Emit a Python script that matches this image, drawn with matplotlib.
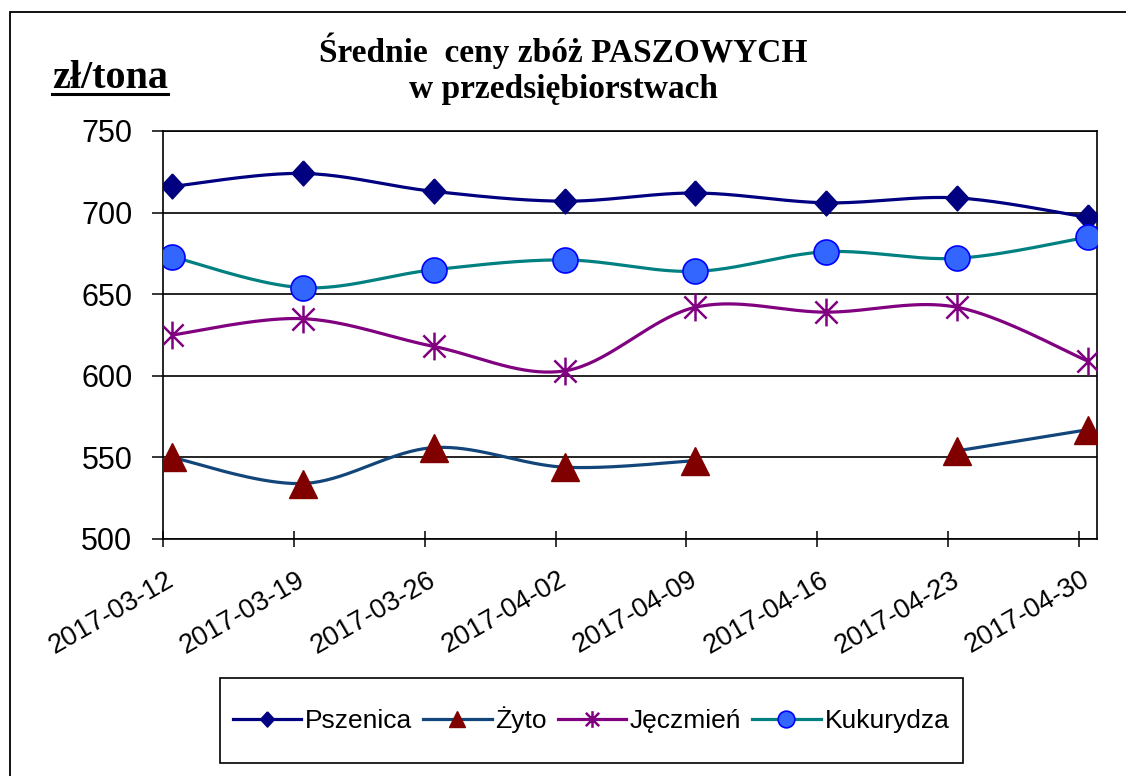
import numpy as np
import matplotlib
matplotlib.use('Agg')
import matplotlib.pyplot as plt
from matplotlib.lines import Line2D
from matplotlib.patches import Rectangle

plt.rcParams['font.family'] = ['Liberation Sans', 'DejaVu Sans']

# Data (zł/tona)
dates = ['2017-03-12', '2017-03-19', '2017-03-26', '2017-04-02',
         '2017-04-09', '2017-04-16', '2017-04-23', '2017-04-30']
pszenica = [716, 724, 713, 707, 712, 706, 709, 697]
zyto = [550, 534, 556, 544, 548, np.nan, 554, 567]
jeczmien = [625, 635, 618, 603, 642, 639, 642, 609]
kukurydza = [673, 654, 665, 671, 664, 676, 672, 685]


def smooth(x, y, n=40):
    # Catmull-Rom through each run of present points (Excel "smoothed line")
    x = np.asarray(x, float)
    y = np.asarray(y, float)
    idx = np.where(~np.isnan(y))[0]
    runs = np.split(idx, np.where(np.diff(idx) > 1)[0] + 1)
    xs, ys = [], []
    for run in runs:
        pts = np.column_stack([x[run], y[run]])
        if len(pts) < 3:
            xs += list(pts[:, 0]) + [np.nan]
            ys += list(pts[:, 1]) + [np.nan]
            continue
        ext = np.vstack([pts[0], pts, pts[-1]])
        t = np.linspace(0, 1, n)[:, None]
        h00 = 2 * t**3 - 3 * t**2 + 1
        h10 = t**3 - 2 * t**2 + t
        h01 = -2 * t**3 + 3 * t**2
        h11 = t**3 - t**2
        for i in range(len(pts) - 1):
            p0, p1, p2, p3 = ext[i], ext[i + 1], ext[i + 2], ext[i + 3]
            m1 = (p2 - p0) / 2
            m2 = (p3 - p1) / 2
            seg = h00 * p1 + h10 * m1 + h01 * p2 + h11 * m2
            xs += list(seg[:, 0])
            ys += list(seg[:, 1])
        xs.append(np.nan)
        ys.append(np.nan)
    return np.array(xs), np.array(ys)


diamond = [(0, 1), (0.92, 0), (0, -1), (-0.92, 0), (0, 1)]
star_path = matplotlib.path.Path(
    [(0, -1), (0, 1), (-0.8, -0.8), (0.8, 0.8), (-0.8, 0.8), (0.8, -0.8)],
    [1, 2, 1, 2, 1, 2])

series = [
    ('Pszenica', pszenica, '#000080', dict(marker=diamond, ms=18, mfc='#000080', mec='#000080', mew=1), 11),
    ('Żyto', zyto, '#12467A', dict(marker='^', ms=20, mfc='#800000', mec='#800000', mew=1), 12),
    ('Jęczmień', jeczmien, '#800080', dict(marker=star_path, ms=20, mfc='none', mec='#800080', mew=1.8), 12),
    ('Kukurydza', kukurydza, '#008080', dict(marker='o', ms=18, mfc='#3366FF', mec='#0000FF', mew=1.2), 12),
]

fig = plt.figure(figsize=(11.26, 7.76), dpi=100)
ax = fig.add_axes([163 / 1126, 1 - 539 / 776, (1097 - 163) / 1126, (539 - 131) / 776])

x = np.arange(len(dates))
handles = []
for name, vals, lc, mk, leg_ms in series:
    sx, sy = smooth(x, vals)
    ax.plot(sx, sy, color=lc, lw=2.3, solid_capstyle='round', zorder=3)
    ax.plot(x, vals, ls='none', zorder=4, **mk)
    hmk = dict(mk)
    hmk['ms'] = leg_ms
    handles.append(Line2D([], [], color=lc, lw=2.3, label=name, **hmk))

off = 0.069
ax.set_xlim(-off, len(dates) - 1 + off)
ax.set_ylim(500, 750)
ax.set_yticks(np.arange(500, 751, 50))
ax.yaxis.grid(True, color='black', lw=1.2)
ax.set_axisbelow(True)

ax.set_xticks(x)
ax.set_xticklabels(dates, rotation=30, ha='right', va='center',
                   rotation_mode='anchor', fontsize=19.5)
ax.tick_params(axis='x', length=0, pad=28)
ax.set_xticks(x - off, minor=True)
ax.tick_params(axis='x', which='minor', direction='inout', length=12, width=1.1)
ax.tick_params(axis='y', direction='out', length=8, width=1.1, labelsize=22, pad=14)

for s in ax.spines.values():
    s.set_linewidth(1.2)
    s.set_color('black')

fig.text(563 / 1126, 1 - 62 / 776, 'Średnie  ceny zbóż PASZOWYCH', ha='center', va='baseline',
         family=['Liberation Serif', 'DejaVu Serif'], weight='bold', fontsize=24)
fig.text(563 / 1126, 1 - 98 / 776, 'w przedsiębiorstwach', ha='center', va='baseline',
         family=['Liberation Serif', 'DejaVu Serif'], weight='bold', fontsize=24)
unit = fig.text(52 / 1126, 1 - 88 / 776, 'zł/tona', ha='left', va='baseline',
                family=['Liberation Serif', 'DejaVu Serif'], weight='bold', fontsize=29)
fig.canvas.draw()
bb = unit.get_window_extent().transformed(fig.transFigure.inverted())
fig.add_artist(Line2D([bb.x0, bb.x1], [1 - 94 / 776] * 2, color='black', lw=2.2,
                      transform=fig.transFigure))

leg = fig.legend(handles=handles, loc='center', ncol=4, frameon=False,
                 bbox_to_anchor=(591 / 1126, 1 - 720 / 776), bbox_transform=fig.transFigure,
                 fontsize=19, handlelength=2.6, handletextpad=0.15, columnspacing=0.4)
fig.add_artist(Rectangle((220 / 1126, 1 - 763 / 776), (963 - 220) / 1126, (763 - 678) / 776,
                         transform=fig.transFigure, fill=False, ec='black', lw=1.2))
fig.add_artist(Rectangle((10 / 1126, -0.05), 1.2, 1 - 12 / 776 + 0.05,
                         transform=fig.transFigure, fill=False, ec='black', lw=1.3))

fig.savefig('out.png', dpi=100)
